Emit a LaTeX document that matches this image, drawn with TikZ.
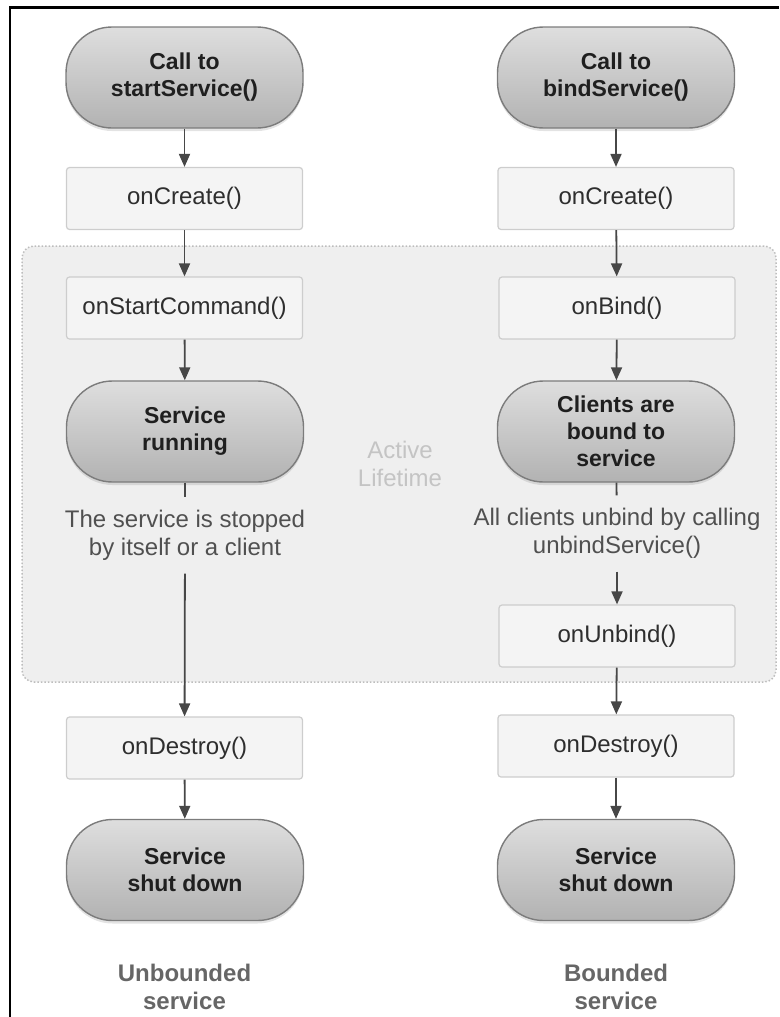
\documentclass[tikz,border=0pt]{standalone}
\usepackage{fontspec}
\setmainfont{Liberation Sans}
\usetikzlibrary{arrows.meta,shadows}
\definecolor{stadtop}{HTML}{DEDEDE}
\definecolor{stadbot}{HTML}{B2B2B2}
\definecolor{stadline}{HTML}{7C7C7C}
\definecolor{boxfill}{HTML}{F4F4F4}
\definecolor{boxline}{HTML}{CDCDCD}
\definecolor{regfill}{HTML}{EFEFEF}
\definecolor{regline}{HTML}{BDBDBD}
\definecolor{arrowc}{HTML}{474747}
\definecolor{txtc}{HTML}{2E2E2E}
\definecolor{notec}{HTML}{505050}
\definecolor{capc}{HTML}{666666}
\definecolor{activec}{HTML}{C4C4C4}
\begin{document}
\begin{tikzpicture}[x=1pt,y=-1pt,
  stadium/.style={draw=stadline, line width=1.4pt, rounded corners=46pt,
    top color=stadtop, bottom color=stadbot,
    minimum width=237pt, minimum height=101pt, inner sep=0pt,
    align=center, text=black!88,
    font=\fontsize{23}{27}\selectfont\bfseries,
    drop shadow={opacity=0.22, shadow xshift=0pt, shadow yshift=-3pt}},
  stepbox/.style={draw=boxline, line width=1.2pt, fill=boxfill, rounded corners=3pt,
    minimum width=236pt, minimum height=62pt, inner sep=0pt,
    text=txtc, font=\fontsize{24}{28}\selectfont},
  note/.style={align=center, text=notec, inner xsep=2pt, inner ysep=0pt,
    minimum height=76pt, font=\fontsize{24}{28}\selectfont},
  caption/.style={align=center, text=capc, font=\fontsize{24}{28}\selectfont\bfseries},
  flow/.style={draw=arrowc, line width=1.8pt, -{Triangle[width=11pt,length=13pt]}},
  plain/.style={draw=arrowc, line width=1.8pt}
]
\useasboundingbox (0,0) rectangle (779,1017);
% frame
\draw[line width=2.6pt] (10,1017) -- (10,7.5) -- (779,7.5);
% active lifetime region
\draw[regline, fill=regfill, line width=1.5pt, dotted, rounded corners=12pt]
  (22,246) rectangle (776,682);
\node[text=activec, align=center, font=\fontsize{24}{28}\selectfont] (act) at (400,464) {Active\\Lifetime};

% left column
\node[stadium] (s1) at (184.5,77.5) {Call to\\startService()};
\node[stepbox] (c1) at (184.5,198.5) {onCreate()};
\node[stepbox] (sc) at (184.5,308) {onStartCommand()};
\node[stadium] (run) at (185,431.5) {Service\\running};
\node[note] (t1) at (185,535.5) {The service is stopped\\by itself or a client};
\node[stepbox] (d1) at (184.5,748) {onDestroy()};
\node[stadium] (sd1) at (185,870) {Service\\shut down};
\node[caption] (cap1) at (184.5,987) {Unbounded\\service};

% right column
\node[stadium] (s2) at (616,77.5) {Call to\\bindService()};
\node[stepbox] (c2) at (616,198.5) {onCreate()};
\node[stepbox] (b2) at (617,308) {onBind()};
\node[stadium] (cl) at (616,431.5) {Clients are\\bound to\\service};
\node[note] (t2) at (617,533.5) {All clients unbind by calling\\unbindService()};
\node[stepbox] (u2) at (617,636) {onUnbind()};
\node[stepbox] (d2) at (616,746) {onDestroy()};
\node[stadium] (sd2) at (616,870) {Service\\shut down};
\node[caption] (cap2) at (616,987) {Bounded\\service};

% connectors left
\draw[flow] (s1) -- (c1);
\draw[flow] (c1) -- (sc);
\draw[flow] (sc) -- (run);
\draw[plain] (run) -- (t1);
\draw[flow] (t1) -- (d1);
\draw[flow] (d1) -- (sd1);
% connectors right
\draw[flow] (s2) -- (c2);
\draw[flow] (c2) -- (b2);
\draw[flow] (b2) -- (cl);
\draw[plain] (cl) -- (t2);
\draw[flow] (t2) -- (u2);
\draw[flow] (u2) -- (d2);
\draw[flow] (d2) -- (sd2);
\end{tikzpicture}
\end{document}
